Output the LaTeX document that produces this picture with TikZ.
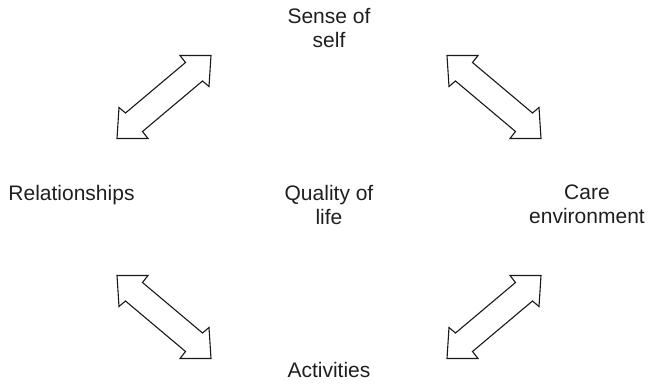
\documentclass[tikz,border=0pt]{standalone}
\usepackage{fontspec}
\setmainfont{Liberation Sans}
\begin{document}
\begin{tikzpicture}[x=1pt,y=1pt,
  label/.style={font=\fontsize{21}{24}\selectfont, text=black!88, inner sep=0pt, align=center},
  arrowline/.style={draw=black!90, line width=1.1pt, line join=miter, fill=white},
  dblarrow/.pic={
    \path[arrowline] (47,41.5) -- (16,41.5) -- (21.5,34.5) -- (-38.5,-16)
      -- (-45,-10.5) -- (-47,-41.5) -- (-16,-41.5) -- (-21.5,-34.5)
      -- (38.5,16) -- (45,10.5) -- cycle;
  }]
\useasboundingbox (0,0) rectangle (648,384);

% labels round the centre
\node[label] (self) at (329,356) {Sense of\\self};
\node[label, anchor=base] (rel) at (71.5,184) {Relationships};
\node[label] (qol) at (329,179.5) {Quality of\\life};
\node[label] (care) at (587,179.5) {Care\\environment};
\node[label, anchor=base] (act) at (329,7) {Activities};

% two-headed block arrows between the outer labels
\coordinate (nw) at (164,287);
\coordinate (ne) at (494,287);
\coordinate (sw) at (164,67);
\coordinate (se) at (494,67);
\pic at (nw) {dblarrow};
\pic[xscale=-1] at (ne) {dblarrow};
\pic[yscale=-1] at (sw) {dblarrow};
\pic at (se) {dblarrow};
\end{tikzpicture}
\end{document}
